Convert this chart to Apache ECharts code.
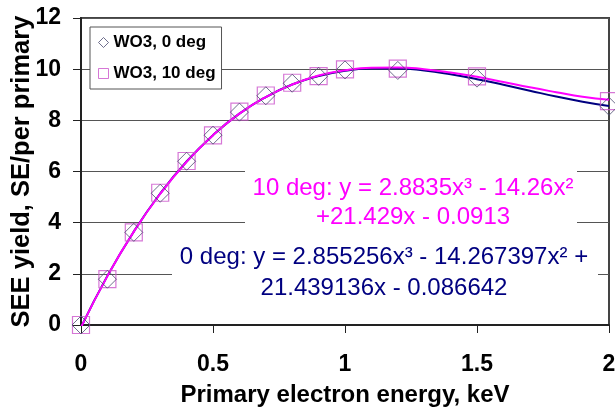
<!DOCTYPE html>
<html>
<head>
<meta charset="utf-8">
<script src="https://cdn.jsdelivr.net/npm/echarts@6/dist/echarts.min.js"></script>
<style>
  html, body { margin: 0; padding: 0; background: #fff; }
  #chart { width: 615px; height: 414px; }
</style>
</head>
<body>
<div id="chart"></div>
<script>
// measured points
const energy = [0, 0.1, 0.2, 0.3, 0.4, 0.5, 0.6, 0.7, 0.8, 0.9, 1.0, 1.2, 1.5, 2.0];
const yield0 = [0, 1.79, 3.62, 5.15, 6.40, 7.42, 8.32, 8.96, 9.45, 9.72, 9.97, 9.95, 9.65, 8.55];
const yield10 = [0, 1.79, 3.62, 5.17, 6.41, 7.41, 8.34, 8.97, 9.47, 9.73, 9.99, 10.02, 9.72, 8.75];

// trendline curves as drawn in the picture
const trendX = [0, 0.1, 0.2, 0.3, 0.4, 0.5, 0.6, 0.7, 0.8, 0.9, 1.0, 1.1, 1.2, 1.3, 1.4, 1.5, 1.6, 1.7, 1.8, 1.9, 2.0];
const trend0 = [-0.09, 1.92, 3.65, 5.14, 6.39, 7.42, 8.26, 8.91, 9.40, 9.73, 9.94, 10.03, 10.03, 9.95, 9.80, 9.61, 9.39, 9.16, 8.93, 8.73, 8.56];
const trend10 = [-0.09, 1.91, 3.65, 5.13, 6.38, 7.42, 8.26, 8.91, 9.40, 9.75, 9.96, 10.06, 10.07, 10.00, 9.87, 9.70, 9.50, 9.29, 9.10, 8.92, 8.80];

const xTicks = [0, 0.5, 1, 1.5, 2];
const yTicks = [0, 2, 4, 6, 8, 10, 12];

const legendNames = ['WO3, 0 deg', 'WO3, 10 deg'];
const eq10 = ['10 deg: y = 2.8835x³ - 14.26x²', '+21.429x - 0.0913'];
const eq0 = ['0 deg: y = 2.855256x³ - 14.267397x² +', '21.439136x - 0.086642'];

const FONT = '"Liberation Sans", Arial, sans-serif';
const NAVY = '#000080';
const MAGENTA = '#FF00FF';

const chart = echarts.init(document.getElementById('chart'));

const pairs = (xs, ys) => xs.map((x, i) => [x, ys[i]]);

chart.setOption({
  backgroundColor: '#fff',
  animation: false,
  grid: {
    left: 81, right: 6, top: 18, bottom: 89,
    containLabel: false, outerBoundsMode: 'none',
    show: true, borderColor: '#444', borderWidth: 2, backgroundColor: 'transparent'
  },
  legend: {
    orient: 'vertical',
    left: 90, top: 27,
    backgroundColor: '#fff',
    borderColor: '#555', borderWidth: 1,
    padding: [7, 6, 7, 8],
    itemGap: 14,
    itemWidth: 10, itemHeight: 10,
    textStyle: { fontFamily: FONT, fontSize: 17, fontWeight: 'bold', color: '#000' },
    data: [
      { name: legendNames[0], icon: 'diamond', itemStyle: { color: '#fff', borderColor: '#4b4b70', borderWidth: 1 } },
      { name: legendNames[1], icon: 'rect', itemStyle: { color: '#fff', borderColor: '#cc55cc', borderWidth: 1 } }
    ]
  },
  xAxis: {
    type: 'value',
    min: xTicks[0], max: xTicks[xTicks.length - 1], interval: 0.5,
    name: 'Primary electron energy, keV',
    nameLocation: 'middle', nameGap: 58, nameMoveOverlap: false,
    nameTextStyle: { fontFamily: FONT, fontSize: 24, fontWeight: 'bold', color: '#000' },
    axisLine: { lineStyle: { color: '#222', width: 2 } },
    axisTick: { length: 8, lineStyle: { color: '#222', width: 1 } },
    axisLabel: { fontFamily: FONT, fontSize: 23, fontWeight: 'bold', color: '#000', margin: 28 },
    splitLine: { show: false }
  },
  yAxis: {
    type: 'value',
    min: yTicks[0], max: yTicks[yTicks.length - 1], interval: 2,
    name: 'SEE yield, SE/per primary',
    nameLocation: 'middle', nameGap: 46, nameMoveOverlap: false,
    nameTextStyle: { fontFamily: FONT, fontSize: 25.5, fontWeight: 'bold', color: '#000' },
    axisLine: { show: true, lineStyle: { color: '#222', width: 2 } },
    axisTick: { show: true, length: 8, lineStyle: { color: '#222', width: 1 } },
    axisLabel: { fontFamily: FONT, fontSize: 23, fontWeight: 'bold', color: '#000', margin: 20 },
    splitLine: { lineStyle: { color: '#555', width: 1 } }
  },
  graphic: [
    { type: 'rect', z: 1, shape: { x: 245, y: 166, width: 332, height: 66 }, style: { fill: '#fff' } },
    { type: 'rect', z: 1, shape: { x: 172, y: 242, width: 426, height: 62 }, style: { fill: '#fff' } },
    { type: 'text', z: 2, x: 413, y: 188, style: { text: eq10[0], fill: MAGENTA, font: '24px ' + FONT, textAlign: 'center', textVerticalAlign: 'middle' } },
    { type: 'text', z: 2, x: 413, y: 217, style: { text: eq10[1], fill: MAGENTA, font: '24px ' + FONT, textAlign: 'center', textVerticalAlign: 'middle' } },
    { type: 'text', z: 2, x: 384, y: 257, style: { text: eq0[0], fill: NAVY, font: '24px ' + FONT, textAlign: 'center', textVerticalAlign: 'middle' } },
    { type: 'text', z: 2, x: 384, y: 288, style: { text: eq0[1], fill: NAVY, font: '24px ' + FONT, textAlign: 'center', textVerticalAlign: 'middle' } }
  ],
  series: [
    {
      name: 'trend 0 deg', type: 'line', smooth: true, showSymbol: false, z: 3,
      data: pairs(trendX, trend0),
      lineStyle: { color: NAVY, width: 2 }
    },
    {
      name: 'trend 10 deg', type: 'line', smooth: true, showSymbol: false, z: 3,
      data: pairs(trendX, trend10),
      lineStyle: { color: MAGENTA, width: 2 }
    },
    {
      name: legendNames[1], type: 'scatter', symbol: 'rect', symbolSize: 17, clip: false, z: 4,
      data: pairs(energy, yield10),
      itemStyle: { color: 'rgba(0,0,0,0)', borderColor: '#cc55cc', borderWidth: 1.2 }
    },
    {
      name: legendNames[0], type: 'scatter', symbol: 'diamond', symbolSize: 18, clip: false, z: 5,
      data: pairs(energy, yield0),
      itemStyle: { color: 'rgba(0,0,0,0)', borderColor: '#4b4b70', borderWidth: 1 }
    }
  ]
});
</script>
</body>
</html>
